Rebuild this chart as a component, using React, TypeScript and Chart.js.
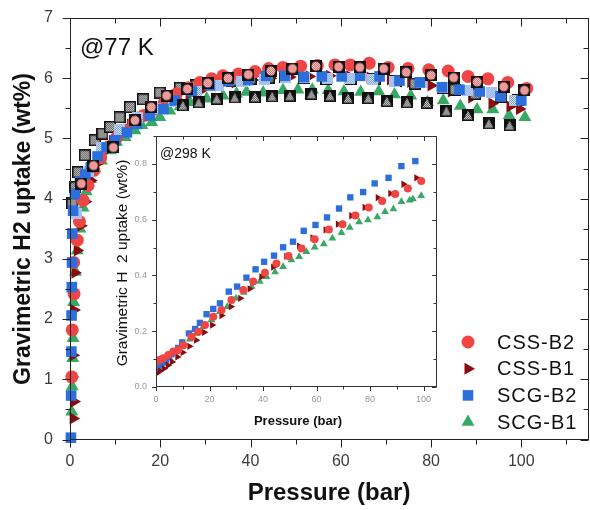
import React, { useEffect, useRef } from 'react';
import { Chart, registerables } from 'chart.js';

Chart.register(...registerables);

// ---------------- Main chart (77 K) ----------------
const seriesNames = ['CSS-B2', 'CSS-B1', 'SCG-B2', 'SCG-B1'];

// adsorption branches
const cssB2_P = [0.4, 0.5, 0.9, 0.8, 1.6, 2.1, 2.9, 4.0, 5.3, 6.8, 8.5, 10.3, 12.2, 14.2, 16.3, 18.5, 20.8, 23.6, 26.2, 28.8, 31.4, 33.9, 37.3, 41.0, 44.0, 47.2, 51.1, 54.8, 58.7, 62.1, 66.3, 70.5, 74.9, 79.5, 83.8, 88.2, 92.6, 97.0, 101.2];
const cssB2_U = [1.04, 1.82, 2.42, 2.94, 3.31, 3.62, 3.97, 4.22, 4.47, 4.68, 4.86, 5.01, 5.14, 5.27, 5.38, 5.48, 5.58, 5.74, 5.84, 5.93, 5.99, 6.04, 6.07, 6.11, 6.16, 6.18, 6.20, 6.21, 6.22, 6.22, 6.25, 6.18, 6.16, 6.14, 6.12, 6.03, 5.99, 5.93, 5.83];

const cssB1_P = [0.7, 0.9, 0.5, 0.7, 0.9, 1.1, 1.6, 2.4, 3.4, 4.6, 6.0, 7.6, 9.4, 11.3, 13.4, 15.6, 18.0, 20.6, 23.4, 26.4, 29.6, 33.0, 36.6, 40.4, 44.4, 48.7, 53.0, 57.5, 62.0, 66.5, 71.0, 75.5, 80.0, 84.5, 89.0, 93.5, 97.5, 99.6];
const cssB1_U = [0.35, 0.63, 1.04, 1.40, 2.15, 2.77, 3.14, 3.55, 3.95, 4.30, 4.58, 4.78, 4.96, 5.10, 5.23, 5.35, 5.46, 5.56, 5.66, 5.74, 5.82, 5.88, 5.93, 5.97, 6.00, 6.02, 6.03, 6.04, 6.03, 6.01, 5.98, 5.94, 5.88, 5.78, 5.68, 5.58, 5.53, 5.49];

const scgB2_P = [0.2, 0.25, 0.3, 0.35, 0.4, 0.45, 0.5, 0.7, 1.1, 2.2, 3.4, 4.6, 6.1, 8.1, 10.0, 12.6, 14.8, 17.7, 20.7, 23.2, 27.0, 31.0, 35.1, 39.5, 43.5, 47.6, 51.8, 55.8, 60.2, 64.3, 68.6, 73.0, 77.5, 82.4, 86.3, 90.8, 95.4, 100.0];
const scgB2_U = [0.03, 0.73, 1.46, 2.06, 2.53, 2.94, 3.42, 3.80, 4.08, 4.28, 4.40, 4.52, 4.70, 4.85, 4.97, 5.10, 5.24, 5.38, 5.49, 5.63, 5.78, 5.88, 5.95, 5.97, 6.04, 6.04, 6.02, 6.03, 6.03, 6.04, 6.03, 5.96, 5.93, 5.85, 5.81, 5.78, 5.70, 5.63];

const scgB1_P = [0.4, 0.5, 0.6, 0.7, 0.8, 1.2, 1.6, 2.2, 2.9, 3.6, 4.5, 5.5, 7.0, 8.9, 10.3, 12.2, 14.4, 15.9, 18.1, 19.9, 22.1, 24.4, 26.6, 30.3, 33.9, 36.9, 39.1, 42.8, 47.2, 50.5, 53.7, 57.2, 60.7, 64.4, 68.4, 71.9, 75.5, 79.2, 82.7, 86.5, 90.2, 93.7, 97.3, 100.8];
const scgB1_U = [0.46, 0.88, 1.35, 1.68, 2.28, 2.78, 3.14, 3.50, 3.85, 4.12, 4.32, 4.50, 4.63, 4.80, 4.94, 5.02, 5.13, 5.22, 5.27, 5.35, 5.46, 5.53, 5.60, 5.66, 5.71, 5.74, 5.77, 5.76, 5.80, 5.81, 5.81, 5.80, 5.78, 5.77, 5.78, 5.73, 5.71, 5.60, 5.63, 5.54, 5.48, 5.48, 5.38, 5.35];

// desorption branches (patterned markers)
const desCssB2_P = [2.5, 5.2, 9.6, 14.4, 18.0, 21.4, 26.0, 30.5, 35.0, 39.5, 44.5, 49.3, 54.5, 59.5, 64.2, 69.5, 74.5, 80.0, 85.0, 90.2, 96.1, 100.7];
const desCssB2_U = [4.25, 4.55, 4.85, 5.30, 5.52, 5.71, 5.82, 5.92, 6.00, 6.06, 6.12, 6.16, 6.20, 6.19, 6.18, 6.16, 6.10, 6.05, 6.01, 5.94, 5.86, 5.80];

const desCssB1_P = [0.5, 1.1, 1.8, 3.3, 5.5, 7.2, 8.9, 11.0, 13.3, 16.2, 19.9, 24.4, 28.0, 32.0, 36.0, 40.0, 44.0, 47.7, 51.8, 56.8, 62.2, 67.5, 72.3, 76.4, 82.6, 85.3, 89.8, 95.6, 99.3];
const desCssB1_U = [3.92, 4.19, 4.44, 4.72, 4.97, 5.08, 5.19, 5.35, 5.52, 5.65, 5.76, 5.84, 5.88, 5.92, 5.96, 5.99, 6.01, 6.02, 6.00, 5.99, 5.99, 5.98, 5.96, 5.91, 5.84, 5.81, 5.74, 5.69, 5.63];

const desScgB2_P = [1.5, 4.0, 7.0, 11.0, 15.0, 19.0, 23.0, 28.0, 33.0, 38.0, 43.0, 47.7, 52.0, 57.0, 62.0, 67.0, 72.0, 77.9, 82.6, 88.0, 93.3, 98.5];
const desScgB2_U = [3.75, 4.45, 4.85, 5.15, 5.35, 5.50, 5.62, 5.78, 5.88, 5.94, 5.98, 6.02, 6.02, 5.99, 6.00, 5.98, 5.95, 5.93, 5.85, 5.80, 5.76, 5.63];

const desScgB1_P = [25.0, 28.5, 32.5, 36.5, 41.0, 44.8, 48.7, 53.5, 57.6, 61.6, 66.1, 70.2, 74.7, 79.1, 83.4, 88.2, 92.8, 97.4];
const desScgB1_U = [5.55, 5.60, 5.66, 5.68, 5.69, 5.70, 5.71, 5.74, 5.71, 5.67, 5.67, 5.62, 5.60, 5.59, 5.46, 5.39, 5.25, 5.22];

// ---------------- Inset (298 K) ----------------
const inCssB2_P = [0.3, 1.5, 2.7, 4.6, 6.5, 8.3, 10.2, 13.3, 15.8, 18.3, 21.4, 24.5, 28.2, 32.6, 36.3, 40.7, 45.0, 49.5, 54.4, 59.3, 64.6, 69.7, 74.5, 79.5, 84.5, 89.4, 94.1, 99.1];
const inCssB2_U = [0.092, 0.098, 0.103, 0.115, 0.127, 0.133, 0.150, 0.180, 0.198, 0.222, 0.252, 0.276, 0.312, 0.348, 0.378, 0.410, 0.443, 0.470, 0.497, 0.530, 0.565, 0.584, 0.615, 0.644, 0.667, 0.692, 0.712, 0.739];

const inCssB1_P = [0.3, 1.5, 3.0, 4.5, 6.0, 8.0, 10.0, 12.5, 15.0, 18.0, 21.0, 24.5, 28.0, 31.5, 35.0, 39.4, 43.8, 48.7, 53.5, 58.5, 63.4, 68.0, 73.0, 78.0, 82.9, 87.6, 92.5, 97.3];
const inCssB1_U = [0.049, 0.057, 0.066, 0.078, 0.090, 0.108, 0.124, 0.146, 0.168, 0.196, 0.222, 0.256, 0.288, 0.318, 0.352, 0.395, 0.430, 0.468, 0.505, 0.535, 0.563, 0.584, 0.614, 0.644, 0.679, 0.694, 0.727, 0.750];

const inScgB2_P = [0.3, 0.9, 1.8, 2.8, 3.8, 4.8, 5.8, 7.0, 8.3, 9.8, 12.3, 14.6, 16.4, 18.9, 21.4, 23.9, 27.2, 30.3, 33.8, 37.2, 40.4, 44.1, 47.5, 51.2, 55.2, 59.6, 63.9, 68.4, 72.6, 77.4, 81.7, 86.9, 91.7, 96.9];
const inScgB2_U = [0.060, 0.067, 0.078, 0.088, 0.098, 0.108, 0.118, 0.128, 0.140, 0.160, 0.192, 0.208, 0.230, 0.261, 0.280, 0.300, 0.342, 0.360, 0.392, 0.422, 0.449, 0.471, 0.501, 0.521, 0.560, 0.581, 0.608, 0.640, 0.680, 0.699, 0.730, 0.750, 0.792, 0.810];

const inScgB1_P = [0.3, 2.7, 5.2, 7.7, 10.2, 12.6, 15.1, 17.6, 20.7, 23.9, 26.6, 29.9, 32.8, 35.7, 38.8, 41.3, 44.5, 47.5, 50.6, 53.5, 56.2, 59.3, 62.7, 65.9, 69.3, 72.4, 75.9, 79.2, 82.7, 85.6, 88.7, 91.7, 94.8, 96.0, 99.1];
const inScgB1_U = [0.067, 0.085, 0.103, 0.127, 0.151, 0.171, 0.192, 0.216, 0.240, 0.270, 0.288, 0.318, 0.339, 0.360, 0.378, 0.395, 0.412, 0.431, 0.455, 0.467, 0.485, 0.501, 0.513, 0.533, 0.553, 0.572, 0.592, 0.599, 0.610, 0.628, 0.638, 0.664, 0.670, 0.674, 0.686];

// ---------------- styles ----------------
const FONT = "'Liberation Sans', Arial, sans-serif";
const RED = '#F04545';
const DARKRED = '#8A0B0B';
const BLUE = '#2A6FDB';
const GREEN = '#38A865';

const pts = (xs: number[], ys: number[]) => xs.map((x, i) => ({ x, y: ys[i] }));

function drawShape(ctx: CanvasRenderingContext2D, shape: string, x: number, y: number, r: number, color: string, rotation = 0) {
  ctx.beginPath();
  if (shape === 'circle') {
    ctx.arc(x, y, r, 0, Math.PI * 2);
  } else if (shape === 'rect') {
    const s = r * Math.SQRT1_2;
    ctx.rect(x - s, y - s, 2 * s, 2 * s);
  } else {
    let rad = (rotation * Math.PI) / 180;
    ctx.moveTo(x + Math.sin(rad) * r, y - Math.cos(rad) * r);
    rad += (2 * Math.PI) / 3;
    ctx.lineTo(x + Math.sin(rad) * r, y - Math.cos(rad) * r);
    rad += (2 * Math.PI) / 3;
    ctx.lineTo(x + Math.sin(rad) * r, y - Math.cos(rad) * r);
    ctx.closePath();
  }
  ctx.fillStyle = color;
  ctx.fill();
}

function checker(c1: string, c2: string) {
  const p = document.createElement('canvas');
  p.width = 2;
  p.height = 2;
  const g = p.getContext('2d')!;
  g.fillStyle = c2;
  g.fillRect(0, 0, 2, 2);
  g.fillStyle = c1;
  g.fillRect(0, 0, 1, 1);
  g.fillRect(1, 1, 1, 1);
  return p;
}

function makeMarker(shape: string, c1: string, c2: string, back: string, size: number) {
  const cv = document.createElement('canvas');
  cv.width = size;
  cv.height = size;
  const g = cv.getContext('2d')!;
  g.fillStyle = back;
  g.fillRect(0, 0, size, size);
  const pat = g.createPattern(checker(c1, c2), 'repeat')!;
  g.fillStyle = pat;
  g.beginPath();
  const m = size / 2;
  if (shape === 'circle') g.arc(m, m, m - 1.5, 0, Math.PI * 2);
  else if (shape === 'rect') g.rect(1.5, 1.5, size - 3, size - 3);
  else {
    g.moveTo(m, 1.5);
    g.lineTo(size - 1.5, size - 1.5);
    g.lineTo(1.5, size - 1.5);
    g.closePath();
  }
  g.fill();
  return cv;
}

type FrameCfg = {
  xMajor: number; xMinor: number; yMajor: number; yMinor: number;
  major: number; minor: number; color: string;
  labelFont: string; labelColor: string; xLabelDy: number; yLabelDx: number; yDecimals: number; xLabelMax: number;
};

function framePlugin(cfg: FrameCfg) {
  return {
    id: 'frameTicks',
    afterDraw(chart: any) {
      const { ctx, chartArea: a, scales } = chart;
      const sx = scales.x;
      const sy = scales.y;
      const L = Math.round(a.left) + 0.5;
      const R = Math.round(a.right) - 0.5;
      const T = Math.round(a.top) + 0.5;
      const B = Math.round(a.bottom) - 0.5;
      ctx.save();
      ctx.strokeStyle = cfg.color;
      ctx.lineWidth = 1;
      ctx.strokeRect(L, T, R - L, B - T);
      ctx.beginPath();
      const nx = Math.floor((sx.max - sx.min) / cfg.xMinor + 1e-6);
      for (let i = 0; i <= nx; i++) {
        const v = sx.min + i * cfg.xMinor;
        const q = v / cfg.xMajor;
        const len = Math.abs(q - Math.round(q)) < 1e-6 ? cfg.major : cfg.minor;
        const px = Math.round(sx.getPixelForValue(v)) + 0.5;
        ctx.moveTo(px, B);
        ctx.lineTo(px, B + len);
        ctx.moveTo(px, T);
        ctx.lineTo(px, T + len);
      }
      const ny = Math.floor((sy.max - sy.min) / cfg.yMinor + 1e-6);
      for (let i = 0; i <= ny; i++) {
        const v = sy.min + i * cfg.yMinor;
        const q = v / cfg.yMajor;
        const len = Math.abs(q - Math.round(q)) < 1e-6 ? cfg.major : cfg.minor;
        const py = Math.round(sy.getPixelForValue(v)) + 0.5;
        ctx.moveTo(L - len, py);
        ctx.lineTo(L, py);
        ctx.moveTo(R - len, py);
        ctx.lineTo(R, py);
      }
      ctx.stroke();

      // tick labels
      ctx.font = cfg.labelFont;
      ctx.fillStyle = cfg.labelColor;
      ctx.textAlign = 'center';
      ctx.textBaseline = 'middle';
      const mx = Math.floor((cfg.xLabelMax - sx.min) / cfg.xMajor + 1e-6);
      for (let i = 0; i <= mx; i++) {
        const v = sx.min + i * cfg.xMajor;
        ctx.fillText(String(Math.round(v)), sx.getPixelForValue(v), a.bottom + cfg.xLabelDy);
      }
      ctx.textAlign = 'right';
      const my = Math.floor((sy.max - sy.min) / cfg.yMajor + 1e-6);
      for (let i = 0; i <= my; i++) {
        const v = sy.min + i * cfg.yMajor;
        ctx.fillText(v.toFixed(cfg.yDecimals), a.left - cfg.yLabelDx, sy.getPixelForValue(v));
      }
      ctx.restore();
    },
  };
}

type TextItem = { text: string; x: number; y: number; font: string; color: string; align?: CanvasTextAlign; rotate?: boolean };

function textPlugin(items: TextItem[]) {
  return {
    id: 'texts',
    afterDraw(chart: any) {
      const ctx = chart.ctx as CanvasRenderingContext2D;
      items.forEach((it) => {
        ctx.save();
        ctx.font = it.font;
        ctx.fillStyle = it.color;
        ctx.textAlign = it.align || 'left';
        ctx.textBaseline = 'alphabetic';
        ctx.translate(it.x, it.y);
        if (it.rotate) ctx.rotate(-Math.PI / 2);
        ctx.fillText(it.text, 0, 0);
        ctx.restore();
      });
    },
  };
}

const hiddenScale = (min: number, max: number, fit: (s: any) => void) => ({
  type: 'linear',
  min,
  max,
  grid: { display: false },
  border: { display: false },
  ticks: { display: false },
  afterFit: fit,
});

export default function App() {
  const mainRef = useRef<HTMLCanvasElement>(null);
  const insetRef = useRef<HTMLCanvasElement>(null);

  useEffect(() => {
    const mDesCssB2 = makeMarker('circle', '#e06060', '#ffd4d4', '#111', 12);
    const mDesCssB1 = makeMarker('rect', '#555555', '#cfcfcf', '#111', 12);
    const mDesScgB2 = makeMarker('rect', '#4f86e0', '#ffffff', '#a9c3ee', 11);
    const mDesScgB1 = makeMarker('triangle', '#555555', '#d8d8d8', '#111', 12);

    const legendItems = [
      { shape: 'circle', r: 6.5, color: RED, rot: 0 },
      { shape: 'triangle', r: 7, color: DARKRED, rot: 90 },
      { shape: 'rect', r: 7.5, color: BLUE, rot: 0 },
      { shape: 'triangle', r: 7.5, color: GREEN, rot: 0 },
    ];

    const legendPlugin = {
      id: 'insideLegend',
      afterDraw(chart: any) {
        const ctx = chart.ctx as CanvasRenderingContext2D;
        ctx.save();
        seriesNames.forEach((name, i) => {
          const y = 342 + i * 26.7;
          const it = legendItems[i];
          drawShape(ctx, it.shape, 468, y, it.r, it.color, it.rot);
          ctx.font = `20px ${FONT}`;
          ctx.fillStyle = '#111';
          ctx.textAlign = 'left';
          ctx.textBaseline = 'middle';
          (ctx as any).letterSpacing = '1px';
          ctx.fillText(name, 497, y + 1);
        });
        ctx.restore();
      },
    };

    const mainTexts = textPlugin([
      { text: '@77 K', x: 80, y: 55, font: `24px ${FONT}`, color: '#111' },
      { text: 'Gravimetric H2 uptake (wt%)', x: 30, y: 229, font: `bold 23px ${FONT}`, color: '#111', align: 'center', rotate: true },
      { text: 'Pressure (bar)', x: 329, y: 500, font: `bold 24px ${FONT}`, color: '#111', align: 'center' },
    ]);

    const img = (m: HTMLCanvasElement) => m as any;

    const main = new Chart(mainRef.current!, {
      type: 'scatter',
      data: {
        datasets: [
          { data: pts(desCssB2_P, desCssB2_U), pointStyle: img(mDesCssB2), pointRadius: 6 },
          { data: pts(desScgB1_P, desScgB1_U), pointStyle: img(mDesScgB1), pointRadius: 6 },
          { data: pts(scgB2_P, scgB2_U), pointStyle: 'rect', pointRadius: 7.5, backgroundColor: BLUE, borderWidth: 0 },
          { data: pts(desScgB2_P, desScgB2_U), pointStyle: img(mDesScgB2), pointRadius: 6 },
          { data: pts(cssB2_P, cssB2_U), pointStyle: 'circle', pointRadius: 6.5, backgroundColor: RED, borderWidth: 0 },
          { data: pts(desCssB1_P, desCssB1_U), pointStyle: img(mDesCssB1), pointRadius: 6 },
          { data: pts(cssB1_P, cssB1_U), pointStyle: 'triangle', rotation: 90, pointRadius: 7, backgroundColor: DARKRED, borderWidth: 0 },
          { data: pts(scgB1_P, scgB1_U), pointStyle: 'triangle', pointRadius: 7.5, backgroundColor: GREEN, borderWidth: 0 },
        ].map((d) => ({ ...d, clip: false as any })) as any,
      },
      options: {
        responsive: false,
        animation: false,
        devicePixelRatio: 1,
        events: [],
        layout: { autoPadding: false, padding: { top: 18, right: 1, left: 0, bottom: 0 } },
        plugins: { legend: { display: false }, tooltip: { enabled: false } },
        scales: {
          x: hiddenScale(0, 115, (s: any) => { s.height = 70.5; }),
          y: hiddenScale(0, 7, (s: any) => { s.width = 70; }),
        },
      } as any,
      plugins: [
        framePlugin({
          xMajor: 20, xMinor: 10, yMajor: 1, yMinor: 0.5, major: 8, minor: 5, color: '#222',
          labelFont: `16px ${FONT}`, labelColor: '#3c3c3c', xLabelDy: 22, yLabelDx: 17, yDecimals: 0, xLabelMax: 100,
        }),
        legendPlugin,
        mainTexts,
      ],
    });

    const insetBg = {
      id: 'insetBg',
      beforeDraw(chart: any) {
        const { ctx, chartArea: a } = chart;
        ctx.save();
        ctx.fillStyle = '#fff';
        ctx.fillRect(a.left, a.top, a.right - a.left, a.bottom - a.top);
        ctx.restore();
      },
    };

    const insetTexts = textPlugin([
      { text: '@298 K', x: 60, y: 32, font: `14px ${FONT}`, color: '#111' },
      { text: 'Gravimetric H  2 uptake (wt%)', x: 26.5, y: 137, font: `15.5px ${FONT}`, color: '#111', align: 'center', rotate: true },
      { text: 'Pressure (bar)', x: 198, y: 299, font: `bold 13px ${FONT}`, color: '#111', align: 'center' },
    ]);

    const inset = new Chart(insetRef.current!, {
      type: 'scatter',
      data: {
        datasets: [
          { data: pts(inCssB2_P, inCssB2_U), pointStyle: 'circle', pointRadius: 4, backgroundColor: RED, borderWidth: 0 },
          { data: pts(inCssB1_P, inCssB1_U), pointStyle: 'triangle', rotation: 90, pointRadius: 4.2, backgroundColor: DARKRED, borderWidth: 0 },
          { data: pts(inScgB2_P, inScgB2_U), pointStyle: 'rect', pointRadius: 4.5, backgroundColor: BLUE, borderWidth: 0 },
          { data: pts(inScgB1_P, inScgB1_U), pointStyle: 'triangle', pointRadius: 4.5, backgroundColor: GREEN, borderWidth: 0 },
        ] as any,
      },
      options: {
        responsive: false,
        animation: false,
        devicePixelRatio: 1,
        events: [],
        layout: { autoPadding: false, padding: { top: 10, right: 8, left: 0, bottom: 0 } },
        plugins: { legend: { display: false }, tooltip: { enabled: false } },
        scales: {
          x: hiddenScale(0, 105, (s: any) => { s.height = 49; }),
          y: hiddenScale(0, 0.9, (s: any) => { s.width = 56; }),
        },
      } as any,
      plugins: [
        insetBg,
        framePlugin({
          xMajor: 20, xMinor: 10, yMajor: 0.2, yMinor: 0.1, major: 4.5, minor: 3, color: '#333',
          labelFont: `9px ${FONT}`, labelColor: '#999', xLabelDy: 13, yLabelDx: 9, yDecimals: 1, xLabelMax: 100,
        }),
        insetTexts,
      ],
    });

    return () => {
      main.destroy();
      inset.destroy();
    };
  }, []);

  return (
    <div style={{ position: 'absolute', left: 0, top: 0, width: 590, height: 510, background: '#fff' }}>
      <canvas ref={mainRef} width={590} height={510} style={{ position: 'absolute', left: 0, top: 0 }} />
      <canvas ref={insetRef} width={345} height={310} style={{ position: 'absolute', left: 100, top: 126 }} />
    </div>
  );
}
